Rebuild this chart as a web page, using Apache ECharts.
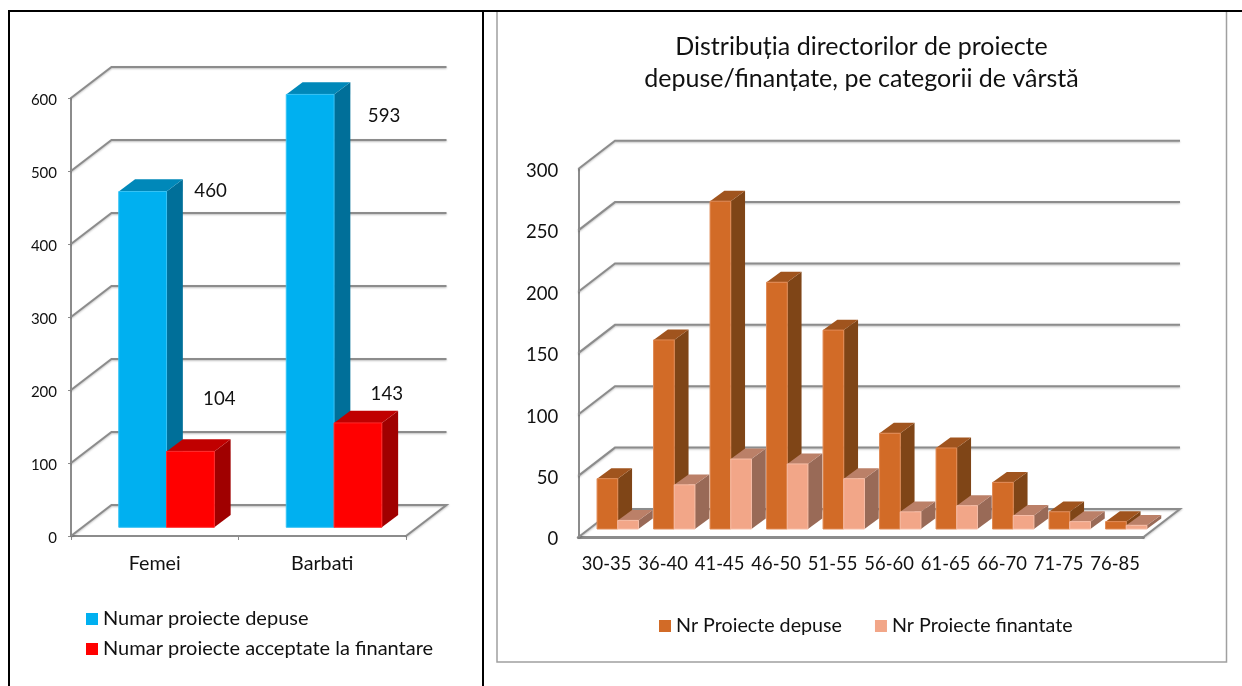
<!DOCTYPE html>
<html>
<head>
<meta charset="utf-8">
<style>
  html, body { margin: 0; padding: 0; background: #fff; }
  #myChart { width: 1242px; height: 686px; }
</style>
<script src="https://cdn.jsdelivr.net/npm/echarts@6/dist/echarts.min.js"></script>
</head>
<body>
<div id="myChart"></div>
<script>
// left chart
var genderCategories = ['Femei', 'Barbati']
var submittedByGender = [460, 593]
var acceptedByGender = [104, 143]
var genderTicks = [0, 100, 200, 300, 400, 500, 600]
// right chart
var ageCategories = ['30-35', '36-40', '41-45', '46-50', '51-55', '56-60', '61-65', '66-70', '71-75', '76-85']
var submittedByAge = [41, 154, 267, 201, 162, 78, 66, 38, 14, 6]
var fundedByAge = [7, 36, 57, 53, 41, 14, 19, 11, 6, 3]
var ageTicks = [0, 50, 100, 150, 200, 250, 300]

var FONT = 'Lato'
var LINE = '#8c8c8c'

// fake 3d geometry for each panel, in pixels
var leftBox = { wallDx: 40.5, wallDy: 31, frontDx: 11.8, frontDy: 8.7, sideDx: 16.3, sideDy: 12.2, barW: 47.8 }
var rightBox = { wallDx: 36.7, wallDy: 28.3, frontDx: 11.2, frontDy: 8.3, sideDx: 14.3, sideDy: 10.4, barW: 20.7 }

// the walls: one bent line per tick, the floor closes on the right
function wallRenderer(box, count) {
  return function(params, api) {
    var v = api.value(0)
    var band = api.size([1, 0])[0]
    var first = api.coord([0, v])
    var x0 = first[0] - band / 2
    var x1 = x0 + band * count
    var y = first[1]
    var pts = [[x0, y], [x0 + box.wallDx, y - box.wallDy], [x1 + box.wallDx, y - box.wallDy]]
    if (v === 0) {
      pts.push([x1, y])
    }
    return {
      type: 'polyline',
      shape: { points: pts },
      silent: true,
      style: { stroke: LINE, lineWidth: 2, fill: null, shadowColor: 'rgba(0,0,0,0.25)', shadowBlur: 2, shadowOffsetY: 1 }
    }
  }
}

// slot is -1 for the first bar of a pair and 0 for the second
function barRenderer(box, slot, colors, labelShift) {
  return function(params, api) {
    var i = api.value(0)
    var v = api.value(1)
    var top = api.coord([i, v])
    var base = api.coord([i, 0])
    var l = base[0] + box.frontDx + slot * box.barW
    var r = l + box.barW
    var yb = base[1] - box.frontDy
    var yt = top[1] - box.frontDy
    var sx = box.sideDx
    var sy = box.sideDy
    var kids = [
      { type: 'polygon', shape: { points: [[r, yb], [r + sx, yb - sy], [r + sx, yt - sy], [r, yt]] }, style: { fill: colors[2] } },
      { type: 'polygon', shape: { points: [[l, yt], [r, yt], [r + sx, yt - sy], [l + sx, yt - sy]] }, style: { fill: colors[1] } },
      { type: 'rect', shape: { x: l, y: yt, width: box.barW, height: yb - yt }, style: { fill: colors[0], stroke: colors[3], lineWidth: 1 } }
    ]
    if (labelShift) {
      kids.push({
        type: 'text',
        style: {
          text: String(v),
          x: r + labelShift[i][0],
          y: yt + labelShift[i][1],
          align: 'center',
          verticalAlign: 'middle',
          fontFamily: FONT,
          fontSize: 18.7,
          fill: '#111'
        }
      })
    }
    return { type: 'group', children: kids }
  }
}

function pairs(values) {
  return values.map(function(v, i) { return [i, v] })
}

function barSeries(name, gridIndex, box, slot, colors, values, labelShift) {
  return {
    name: name,
    type: 'custom',
    xAxisIndex: gridIndex,
    yAxisIndex: gridIndex,
    clip: false,
    z: 3,
    itemStyle: { color: colors[0] },
    encode: { x: 0, y: 1 },
    data: pairs(values),
    renderItem: barRenderer(box, slot, colors, labelShift)
  }
}

function wallSeries(gridIndex, box, count, ticks) {
  return {
    type: 'custom',
    xAxisIndex: gridIndex,
    yAxisIndex: gridIndex,
    clip: false,
    silent: true,
    z: 1,
    encode: { y: 0 },
    data: ticks.map(function(t) { return [t] }),
    renderItem: wallRenderer(box, count)
  }
}

var blue = ['#00b0f0', '#0088b9', '#006f99', '#35c2f4']
var red = ['#ff0000', '#c00000', '#a00000', '#ff2a2a']
var orange = ['#d26b27', '#a0541e', '#7f4517', '#e08a55']
var salmon = ['#f2a688', '#bb8068', '#996a57', '#f7bda6']

var option = {
  animation: false,
  textStyle: { fontFamily: FONT },
  title: {
    text: 'Distribuția directorilor de proiecte\ndepuse/finanțate, pe categorii de vârstă',
    left: 856.5,
    top: 26,
    textAlign: 'center',
    textStyle: { fontFamily: FONT, fontSize: 25, fontWeight: 'normal', color: '#111', lineHeight: 32 }
  },
  legend: [{
    data: ['Numar proiecte depuse', 'Numar proiecte acceptate la finantare'],
    orient: 'vertical',
    left: 86,
    top: 609,
    padding: 0,
    icon: 'rect',
    itemWidth: 12,
    itemHeight: 12,
    itemGap: 10,
    textStyle: { fontFamily: FONT, fontSize: 20, color: '#111' }
  }, {
    data: ['Nr Proiecte depuse', 'Nr Proiecte finantate'],
    orient: 'horizontal',
    left: 659,
    top: 616,
    padding: 0,
    icon: 'rect',
    itemWidth: 12,
    itemHeight: 12,
    itemGap: 33,
    textStyle: { fontFamily: FONT, fontSize: 19.7, color: '#111' }
  }],
  grid: [
    { left: 71, top: 98, width: 335, height: 438 },
    { left: 578.3, top: 169, width: 565, height: 368.3 }
  ],
  xAxis: [{
    type: 'category',
    gridIndex: 0,
    data: genderCategories,
    axisLine: { lineStyle: { color: LINE, width: 2 } },
    axisTick: { show: true, length: 4, lineStyle: { color: LINE, width: 1 } },
    axisLabel: { margin: 18, fontFamily: FONT, fontSize: 19.7, color: '#111' }
  }, {
    type: 'category',
    gridIndex: 1,
    data: ageCategories,
    axisLine: { lineStyle: { color: LINE, width: 3 } },
    axisTick: { show: false },
    axisLabel: { margin: 18, interval: 0, fontFamily: FONT, fontSize: 18.4, color: '#111' }
  }],
  yAxis: [{
    type: 'value',
    gridIndex: 0,
    min: 0,
    max: 600,
    interval: 100,
    splitLine: { show: false },
    axisLine: { show: true, lineStyle: { color: LINE, width: 2 } },
    axisTick: { show: true, length: 3, lineStyle: { color: LINE, width: 1 } },
    axisLabel: {
      margin: 14,
      formatter: '{v|{value}}',
      rich: { v: { fontFamily: FONT, fontSize: 15, color: '#111', padding: [5, 0, 0, 0] } }
    }
  }, {
    type: 'value',
    gridIndex: 1,
    min: 0,
    max: 300,
    interval: 50,
    splitLine: { show: false },
    axisLine: { show: true, lineStyle: { color: LINE, width: 2 } },
    axisTick: { show: false },
    axisLabel: {
      margin: 20,
      formatter: '{v|{value}}',
      rich: { v: { fontFamily: FONT, fontSize: 18.5, color: '#111', padding: [4, 0, 0, 0] } }
    }
  }],
  series: [
    wallSeries(0, leftBox, genderCategories.length, genderTicks),
    barSeries('Numar proiecte depuse', 0, leftBox, -1, blue, submittedByGender, [[44, -1], [50, 22]]),
    barSeries('Numar proiecte acceptate la finantare', 0, leftBox, 0, red, acceptedByGender, [[5, -52], [5, -29]]),
    wallSeries(1, rightBox, ageCategories.length, ageTicks),
    barSeries('Nr Proiecte depuse', 1, rightBox, -1, orange, submittedByAge),
    barSeries('Nr Proiecte finantate', 1, rightBox, 0, salmon, fundedByAge)
  ],
  // page table lines and the frame of the right chart
  graphic: [
    { type: 'rect', z: -1, shape: { x: 497, y: 11, width: 729.5, height: 651 }, style: { fill: '#fff', stroke: '#a0a0a0', lineWidth: 1.5 } },
    { type: 'rect', z: 10, shape: { x: 8, y: 10, width: 1234, height: 2 }, style: { fill: '#000' } },
    { type: 'rect', z: 10, shape: { x: 8, y: 10, width: 2, height: 676 }, style: { fill: '#000' } },
    { type: 'rect', z: 10, shape: { x: 482, y: 10, width: 2, height: 676 }, style: { fill: '#000' } }
  ]
}

var chart = echarts.init(document.getElementById('myChart'))
chart.setOption(option)
</script>
</body>
</html>
